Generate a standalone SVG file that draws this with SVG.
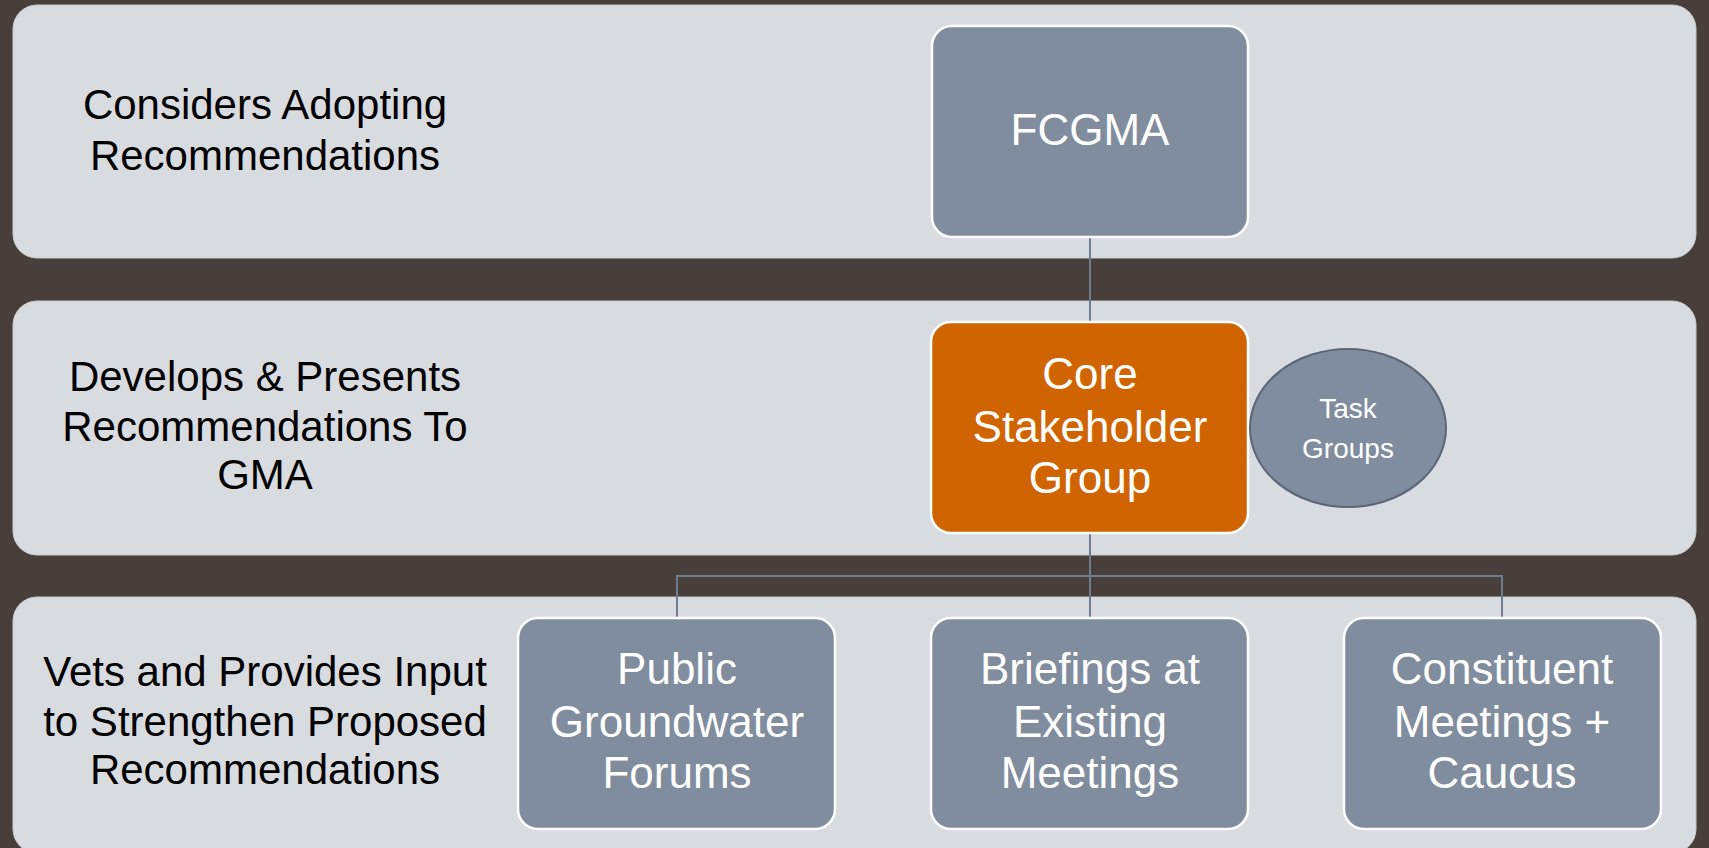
<svg xmlns="http://www.w3.org/2000/svg" width="1709" height="848" viewBox="0 0 1709 848">
<style>
.band{fill:#D8DBDF;stroke:#C9CDD2;stroke-width:1}
.box{fill:#808D9E;stroke:#FFFFFF;stroke-width:2.5}
.core{fill:#D06400;stroke:#FFFFFF;stroke-width:2.5}
.lbl{font-family:"Liberation Sans",Arial,sans-serif;font-size:42px;fill:#000000;text-anchor:middle}
.bt{font-family:"Liberation Sans",Arial,sans-serif;font-size:44px;fill:#FFFFFF;text-anchor:middle}
.st{font-family:"Liberation Sans",Arial,sans-serif;font-size:28px;fill:#FFFFFF;text-anchor:middle}
.conn{fill:none;stroke:#6E7C90;stroke-width:2}
</style>
<rect x="0" y="0" width="1709" height="848" fill="#483E3A"/>
<g id="bands">
<rect class="band" x="13" y="5" width="1683" height="253" rx="24"/>
<rect class="band" x="13" y="301" width="1683" height="254" rx="24"/>
<rect class="band" x="13" y="597" width="1683" height="256" rx="24"/>
</g>
<g id="labels">
<text class="lbl" x="265" y="119">Considers Adopting</text>
<text class="lbl" x="265" y="170">Recommendations</text>
<text class="lbl" x="265" y="391">Develops &amp; Presents</text>
<text class="lbl" x="265" y="441">Recommendations To</text>
<text class="lbl" x="265" y="489">GMA</text>
<text class="lbl" x="265" y="686">Vets and Provides Input</text>
<text class="lbl" x="265" y="736">to Strengthen Proposed</text>
<text class="lbl" x="265" y="784">Recommendations</text>
</g>
<g id="connectors">
<line class="conn" x1="1090" y1="237" x2="1090" y2="322"/>
<line class="conn" x1="1090" y1="533" x2="1090" y2="618"/>
<polyline class="conn" points="677,618 677,576 1502,576 1502,618"/>
</g>
<g id="fcgma">
<rect class="box" x="932" y="26" width="316" height="211" rx="20"/>
<text class="bt" x="1090" y="145">FCGMA</text>
</g>
<g id="core">
<rect class="core" x="931" y="322" width="317" height="211" rx="20"/>
<text class="bt" x="1090" y="389">Core</text>
<text class="bt" x="1090" y="442">Stakeholder</text>
<text class="bt" x="1090" y="493">Group</text>
</g>
<g id="task">
<ellipse cx="1348" cy="428" rx="98" ry="79" fill="#808D9E" stroke="#5A6676" stroke-width="2"/>
<text class="st" x="1348" y="418">Task</text>
<text class="st" x="1348" y="458">Groups</text>
</g>
<g id="public">
<rect class="box" x="518" y="618" width="317" height="211" rx="20"/>
<text class="bt" x="677" y="684">Public</text>
<text class="bt" x="677" y="737">Groundwater</text>
<text class="bt" x="677" y="788">Forums</text>
</g>
<g id="briefings">
<rect class="box" x="931" y="618" width="317" height="211" rx="20"/>
<text class="bt" x="1090" y="684">Briefings at</text>
<text class="bt" x="1090" y="737">Existing</text>
<text class="bt" x="1090" y="788">Meetings</text>
</g>
<g id="constituent">
<rect class="box" x="1344" y="618" width="317" height="211" rx="20"/>
<text class="bt" x="1502" y="684">Constituent</text>
<text class="bt" x="1502" y="737">Meetings +</text>
<text class="bt" x="1502" y="788">Caucus</text>
</g>
</svg>
